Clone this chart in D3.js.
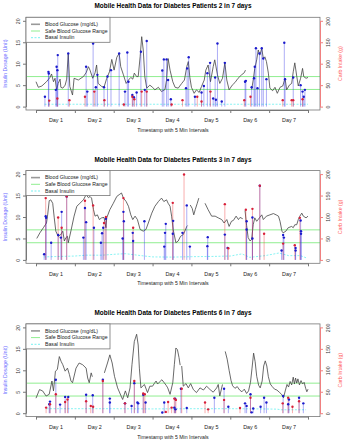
<!DOCTYPE html>
<html>
<head>
<meta charset="utf-8">
<script src="https://cdn.jsdelivr.net/npm/d3@7"></script>
<style>
  body { margin: 0; background: #fff; }
  svg { font-family: "Liberation Sans", Arial, sans-serif; }
</style>
</head>
<body>
<div class="vis"></div>
<script>
// ---- data (time in days, glucose/insulin on left scale, carbs in g) ----
const patientIds = [2, 3, 6];
const dayLabels = ["Day 1", "Day 2", "Day 3", "Day 4", "Day 5", "Day 6", "Day 7"];
const dayTicks = [0, 1, 2, 3, 4, 5, 6, 7];
const insulinTicks = [0, 5, 10, 15, 20];
const carbTicks = [0, 50, 100, 150, 200];
const safeRange = [4, 7];
const legendLabels = ["Blood Glucose (mg/dL)", "Safe Blood Glucose Range", "Basal Insulin"];

const glucose2 = [[0,5.8],[0.06,4.5],[0.15,4.8],[0.27,5.8],[0.36,6.8],[0.40,7.6],[0.45,5.8],[0.49,6.6],[0.53,3.9],[0.57,5.4],[0.62,6.4],[0.64,4.5],[0.69,4.3],[0.75,5.0],[0.79,6.4],[0.83,12.4],[0.87,4.7],[0.94,2.7],[0.98,6.6],[1.09,6.2],[1.22,7.0],[1.29,7.9],[1.35,9.3],[1.39,8.5],[1.46,6.6],[1.52,7.9],[1.56,9.7],[1.60,5.4],[1.69,4.7],[1.75,4.5],[1.82,6.6],[1.89,8.1],[1.95,11.0],[2.01,8.5],[2.08,11.5],[2.14,12.4],[2.18,9.3],[2.25,7.4],[2.32,5.4],[2.38,6.2],[2.44,6.8],[2.49,6.4],[2.53,7.8],[2.59,7.0],[2.63,7.0],[2.68,11.6],[2.72,16.3],[2.76,13.2],[2.80,7.0],[2.85,4.3],[2.93,5.0],[3.0,4.5],[3.06,3.9],[3.15,4.5],[3.23,3.5],[3.32,4.0],[3.36,6.2],[3.40,11.2],[3.45,8.5],[3.52,5.8],[3.58,4.5],[3.66,4.3],[3.75,5.4],[3.82,6.2],[3.88,9.3],[3.92,10.5],[3.96,6.8],[4.0,4.5],[4.07,3.1],[4.13,3.9],[4.20,3.3],[4.26,4.7],[4.33,6.2],[4.37,8.5],[4.43,9.7],[4.49,5.8],[4.56,9.3],[4.60,10.9],[4.67,7.4],[4.73,5.4],[4.80,6.6],[4.86,10.2],[4.91,6.2],[4.97,3.9],[5.05,5.0],[5.12,5.6],[5.20,6.6],[5.29,7.4],[5.36,7.9],[5.39,8.5],[5.47,null],[5.55,4.0],[5.59,6.2],[5.63,8.9],[5.68,10.9],[5.72,13.2],[5.76,12.0],[5.81,13.6],[5.85,11.2],[5.89,11.6],[5.93,10.5],[5.98,7.8],[6.02,4.3],[6.09,3.7],[6.15,4.5],[6.21,3.1],[6.28,4.5],[6.35,4.8],[6.41,6.6],[6.45,3.9],[6.52,5.0],[6.58,5.4],[6.62,8.1],[6.66,10.2],[6.71,7.1],[6.75,4.8],[6.81,6.6],[6.86,8.9],[6.89,7.0],[6.95,6.6],[7.0,6.8]];
const insulin2 = [[0.23,2.3],[0.32,8.1],[0.33,7.7],[0.51,3.9],[0.53,9.3],[0.55,8.5],[0.56,12.0],[0.83,12.4],[1.29,9.3],[1.32,3.5],[1.47,14.7],[1.54,4.5],[1.58,7.4],[1.75,4.5],[1.84,7.0],[1.93,8.5],[2.14,12.4],[2.29,3.5],[2.35,12.6],[2.38,5.8],[2.48,2.7],[2.52,2.2],[2.59,3.3],[2.70,12.8],[2.80,3.9],[2.85,15.3],[3.25,8.4],[3.29,11.0],[3.36,11.0],[3.40,6.2],[3.47,1.7],[3.86,4.3],[3.89,8.9],[3.93,11.5],[4.09,2.3],[4.26,3.3],[4.32,4.8],[4.41,7.8],[4.48,10.2],[4.56,1.9],[4.61,6.8],[4.63,1.6],[4.67,14.7],[4.78,1.2],[4.86,10.2],[5.38,5.8],[5.40,6.0],[5.55,4.5],[5.61,6.6],[5.63,9.3],[5.66,13.6],[5.70,4.3],[5.75,12.4],[5.81,13.6],[5.85,11.2],[5.93,6.4],[6.39,14.9],[6.41,6.4],[6.62,6.8],[6.81,5.0],[6.86,3.5],[6.89,2.3],[6.92,3.9]];
const carbs2 = [[0.34,14],[0.55,19],[0.86,15],[1.26,23],[1.50,35],[1.76,15],[2.26,5],[2.48,23],[2.53,17],[2.72,35],[2.85,35],[3.49,5],[3.77,15],[4.15,23],[4.26,12],[4.49,35],[5.36,15],[5.52,23],[6.35,15],[6.58,15],[6.62,15],[6.86,17]];
const basal2 = [[0.22,0.55],[7.0,0.55]];

const glucose3 = [[0.02,5.0],[0.10,6.3],[0.19,7.5],[0.27,8.6],[0.30,10.5],[0.34,13.8],[0.38,14.0],[0.43,13.2],[0.47,9.8],[0.51,6.7],[0.57,5.5],[0.63,5.8],[0.69,6.7],[0.73,4.4],[0.77,5.2],[0.81,5.5],[0.83,4.0],[0.90,6.8],[0.98,10.2],[1.05,12.5],[1.13,13.2],[1.22,14.0],[1.29,15.2],[1.35,14.5],[1.39,14.8],[1.43,14.4],[1.48,11.7],[1.52,10.2],[1.58,10.5],[1.63,9.4],[1.69,9.8],[1.75,9.9],[1.80,7.5],[1.82,9.8],[1.90,11.7],[1.99,13.2],[2.08,14.8],[2.14,15.2],[2.20,15.6],[2.25,14.4],[2.32,13.6],[2.38,12.5],[2.44,10.5],[2.49,9.4],[2.55,10.2],[2.61,9.4],[2.68,7.1],[2.76,6.7],[2.83,7.1],[2.89,8.6],[2.98,10.9],[3.06,12.5],[3.15,13.6],[3.23,14.4],[3.29,13.6],[3.36,14.0],[3.40,13.2],[3.45,12.5],[3.49,10.2],[3.53,7.1],[3.60,4.0],[3.66,4.4],[3.72,5.5],[3.79,5.9],[3.83,6.7],[3.88,7.8],[3.90,8.0],[3.93,null],[3.97,12.8],[4.02,12.0],[4.06,10.5],[4.10,11.8],[4.15,13.2],[4.19,14.4],[4.27,null],[4.35,13.2],[4.43,11.7],[4.52,10.2],[4.61,10.2],[4.69,9.8],[4.78,9.4],[4.84,8.6],[4.91,9.4],[4.97,7.8],[5.03,9.0],[5.08,9.2],[5.15,10.2],[5.21,9.4],[5.25,9.9],[5.32,9.6],[5.35,null],[5.38,11.5],[5.42,8.0],[5.46,5.2],[5.51,4.4],[5.55,4.8],[5.59,8.2],[5.63,9.8],[5.68,9.0],[5.75,9.8],[5.81,10.5],[5.85,9.4],[5.93,10.2],[6.02,10.5],[6.11,10.8],[6.18,10.5],[6.24,10.2],[6.28,9.0],[6.33,6.7],[6.36,6.3],[6.43,6.7],[6.49,7.5],[6.58,7.8],[6.62,7.5],[6.66,8.2],[6.71,8.2],[6.75,9.4],[6.79,10.2],[6.84,10.9],[6.88,10.2],[6.95,9.8],[7.0,10.2]];
const insulin3 = [[0.21,1.3],[0.25,10.2],[0.26,9.8],[0.39,4.0],[0.57,5.8],[0.64,5.2],[0.66,11.2],[0.79,14.8],[1.22,5.2],[1.26,12.1],[1.29,8.8],[1.49,7.5],[1.67,4.0],[1.70,6.2],[1.73,7.5],[1.80,9.6],[2.23,5.0],[2.25,11.2],[2.26,9.0],[2.49,6.3],[2.50,4.4],[2.79,9.0],[3.30,3.1],[3.32,6.3],[3.34,8.4],[3.52,6.1],[3.53,9.1],[3.77,6.3],[3.88,12.7],[3.96,3.1],[4.41,3.2],[4.42,5.3],[4.86,5.9],[4.93,2.8],[5.42,9.0],[5.42,7.1],[5.57,9.9],[5.57,5.0],[5.76,17.3],[6.32,2.2],[6.36,5.8],[6.38,5.2],[6.68,2.8],[6.68,2.2],[6.81,9.2],[6.82,6.7],[6.82,6.1]];
const carbs3 = [[0.25,144],[0.57,99],[0.66,75],[0.79,148],[1.26,138],[1.47,127],[1.75,86],[1.80,100],[2.25,144],[2.50,75],[3.52,133],[3.81,199],[4.86,130],[4.95,27],[5.40,117],[5.57,119],[5.76,173],[5.87,61],[6.36,38],[6.66,34],[6.79,98]];
const basal3 = [[0.2,0.7],[0.6,0.8],[1.0,0.9],[1.3,1.1],[1.7,1.1],[2.0,1.3],[2.3,1.45],[2.7,1.0],[3.0,0.7],[3.5,0.65],[4.0,0.75],[4.5,0.8],[5.0,0.9],[5.3,1.4],[5.5,0.6],[5.9,1.0],[6.25,1.6],[6.5,1.0],[6.8,1.0],[6.95,0.5]];

const glucose6 = [[0,3.5],[0.09,5.5],[0.17,5.2],[0.26,4.0],[0.34,4.4],[0.41,7.5],[0.45,5.2],[0.50,9.8],[0.55,10.2],[0.60,13.2],[0.65,12.0],[0.69,11.3],[0.75,9.8],[0.81,10.5],[0.86,9.0],[0.90,7.5],[0.94,7.1],[1.03,10.5],[1.11,11.7],[1.20,11.3],[1.29,10.5],[1.33,8.2],[1.37,7.1],[1.42,9.4],[1.45,8.5],[1.6,null],[1.76,9.4],[1.84,11.7],[1.90,13.6],[1.96,11.7],[2.02,8.6],[2.10,5.9],[2.19,4.0],[2.23,3.2],[2.30,5.2],[2.36,3.6],[2.42,5.9],[2.47,11.3],[2.53,16.7],[2.59,18.4],[2.63,15.9],[2.66,10.5],[2.70,5.9],[2.79,6.7],[2.87,4.8],[2.93,6.3],[3.00,6.3],[3.05,7.0],[3.09,7.5],[3.13,6.8],[3.17,7.2],[3.24,7.8],[3.30,7.1],[3.35,6.5],[3.39,5.9],[3.45,4.4],[3.52,7.1],[3.56,11.3],[3.60,15.2],[3.64,14.8],[3.68,13.0],[3.71,11.2],[3.73,null],[3.75,11.0],[3.79,6.3],[3.86,6.9],[3.92,5.9],[3.98,6.9],[4.05,5.5],[4.13,4.8],[4.22,5.9],[4.31,5.4],[4.39,6.3],[4.48,5.5],[4.56,4.9],[4.65,5.9],[4.69,6.7],[4.73,4.0],[4.80,6.7],[4.84,null],[4.87,14.4],[4.92,12.6],[4.97,10.0],[5.02,7.6],[5.06,6.4],[5.12,5.8],[5.18,6.2],[5.24,5.4],[5.30,5.0],[5.36,5.6],[5.42,4.6],[5.47,5.2],[5.52,7.2],[5.56,10.5],[5.60,14.0],[5.64,12.0],[5.68,8.6],[5.73,6.5],[5.77,5.9],[5.82,7.5],[5.86,11.0],[5.90,12.2],[5.94,11.0],[5.98,8.5],[6.03,6.8],[6.08,6.2],[6.14,5.6],[6.20,5.4],[6.26,4.9],[6.32,4.4],[6.37,3.6],[6.42,5.4],[6.46,6.7],[6.50,6.1],[6.54,7.4],[6.58,6.6],[6.62,8.4],[6.65,6.8],[6.68,8.2],[6.71,7.0],[6.74,8.0],[6.78,6.6],[6.82,7.6],[6.86,6.8],[6.90,7.2],[6.94,5.8],[6.97,5.0],[7.0,5.6]];
const insulin6 = [[0.34,2.1],[0.36,2.7],[0.51,7.8],[0.62,2.0],[0.75,3.8],[0.83,3.8],[1.29,4.3],[1.46,4.2],[1.72,7.8],[1.90,3.4],[1.90,2.5],[2.29,2.3],[2.46,1.7],[2.53,7.0],[2.61,2.5],[2.63,2.3],[2.76,4.3],[2.82,2.5],[3.25,0.15],[3.30,2.5],[3.56,1.3],[3.58,3.4],[3.59,0.9],[3.73,5.7],[3.88,1.2],[4.59,3.6],[4.84,5.7],[4.95,1.5],[5.38,2.3],[5.42,1.7],[5.52,4.4],[5.55,0.2],[5.59,1.1],[5.78,1.5],[5.87,3.6],[5.93,2.5],[6.36,4.0],[6.49,2.1],[6.51,3.2],[6.77,3.6],[6.88,2.3]];
const carbs6 = [[0.26,13],[0.36,21],[0.51,44],[0.75,26],[0.81,32],[1.29,28],[1.41,17],[1.47,15],[1.72,75],[2.29,23],[2.53,75],[2.76,46],[2.80,44],[3.34,3],[3.40,26],[3.49,13],[3.56,34],[3.60,31],[3.75,57],[4.35,25],[4.43,9],[4.84,31],[5.25,12],[5.52,36],[6.35,23],[6.49,36],[6.60,15],[6.77,28]];
const basal6 = [[0.27,1.05],[2.0,1.05],[3.0,1.0],[4.0,1.05],[5.0,1.05],[5.8,1.0],[6.2,0.95],[6.3,0.8],[6.95,0.8]];

const panels = [
  { id: patientIds[0], glucose: glucose2, insulin: insulin2, carbs: carbs2, basal: basal2 },
  { id: patientIds[1], glucose: glucose3, insulin: insulin3, carbs: carbs3, basal: basal3 },
  { id: patientIds[2], glucose: glucose6, insulin: insulin6, carbs: carbs6, basal: basal6 }
];

// ---- layout ----
const W = 345, H = 446;
const panelStep = 153.3;
const box = { left: 26, right: 320, top: 17.3, bottom: 110 };

const svg = d3.select(".vis").append("svg")
  .attr("width", W).attr("height", H);

const x = d3.scaleLinear().domain([0, 7]).range([36, 308]);

panels.forEach((p, i) => {
  const g = svg.append("g").attr("transform", "translate(0," + (i * panelStep) + ")");

  const y = d3.scaleLinear().domain([0, 20]).range([106.6, 20.8]);
  const yCarb = d3.scaleLinear().domain([0, 200]).range([106.6, 20.8]);

  // title
  g.append("text")
    .attr("x", 173).attr("y", 8.3)
    .attr("text-anchor", "middle")
    .attr("font-weight", "bold")
    .attr("font-size", 6.4)
    .text("Mobile Health Data for Diabetes Patients " + p.id + " in 7 days");

  // safe range lines
  g.selectAll(".safe").data(safeRange).enter().append("line")
    .attr("x1", box.left).attr("x2", box.right)
    .attr("y1", d => y(d)).attr("y2", d => y(d))
    .attr("stroke", "#90ee90").attr("stroke-width", 1);

  // basal insulin
  g.append("path").datum(p.basal)
    .attr("fill", "none").attr("stroke", "#55eeee")
    .attr("stroke-width", 0.7).attr("stroke-dasharray", "2,1.5")
    .attr("d", d3.line().x(d => x(d[0])).y(d => y(d[1])));

  // glucose line
  g.append("path").datum(p.glucose)
    .attr("fill", "none").attr("stroke", "#444")
    .attr("stroke-width", 0.8)
    .attr("d", d3.line().defined(d => d[1] !== null).x(d => x(d[0])).y(d => y(d[1])));

  // insulin stems + dots
  g.selectAll(".ins").data(p.insulin).enter().append("line")
    .attr("x1", d => x(d[0])).attr("x2", d => x(d[0]))
    .attr("y1", y(0)).attr("y2", d => y(d[1]))
    .attr("stroke", "rgba(40,40,230,0.38)").attr("stroke-width", 1);
  // carb stems
  g.selectAll(".carb").data(p.carbs).enter().append("line")
    .attr("x1", d => x(d[0])).attr("x2", d => x(d[0]))
    .attr("y1", yCarb(0)).attr("y2", d => yCarb(d[1]))
    .attr("stroke", "rgba(240,40,40,0.38)").attr("stroke-width", 1);
  g.selectAll(".insdot").data(p.insulin).enter().append("circle")
    .attr("cx", d => x(d[0])).attr("cy", d => y(d[1])).attr("r", 1.2)
    .attr("fill", "#1a1acc");
  g.selectAll(".carbdot").data(p.carbs).enter().append("circle")
    .attr("cx", d => x(d[0])).attr("cy", d => yCarb(d[1])).attr("r", 1.2)
    .attr("fill", "#d8203a");

  // frame
  g.append("rect")
    .attr("x", box.left).attr("y", box.top)
    .attr("width", box.right - box.left).attr("height", box.bottom - box.top)
    .attr("fill", "none").attr("stroke", "#777").attr("stroke-width", 0.8);

  // left axis
  const ax = g.append("g").attr("transform", "translate(" + box.left + ",0)")
    .call(d3.axisLeft(y).tickValues(insulinTicks).tickSize(3).tickSizeOuter(0));
  ax.select(".domain").attr("stroke", "#777");
  ax.selectAll(".tick line").attr("stroke", "#777");
  ax.selectAll("text")
    .attr("transform", "rotate(-90)")
    .attr("x", 0).attr("y", -6).attr("dy", 0)
    .attr("text-anchor", "middle")
    .attr("font-size", 5.2).attr("fill", "#333");

  // right axis
  const ar = g.append("g").attr("transform", "translate(" + box.right + ",0)")
    .call(d3.axisRight(yCarb).tickValues(carbTicks).tickSize(3).tickSizeOuter(0));
  ar.select(".domain").attr("stroke", "#f08080");
  ar.selectAll(".tick line").attr("stroke", "#f08080");
  ar.selectAll("text")
    .attr("transform", "rotate(-90)")
    .attr("x", 0).attr("y", 10.3).attr("dy", 0)
    .attr("text-anchor", "middle")
    .attr("font-size", 5.2).attr("fill", "#333");

  // bottom axis: ticks at day boundaries, labels at middle of each day
  const ab = g.append("g").attr("transform", "translate(0," + box.bottom + ")")
    .call(d3.axisBottom(x).tickValues(dayTicks).tickSize(3).tickSizeOuter(0).tickFormat(""));
  ab.select(".domain").attr("stroke", "#777");
  ab.selectAll(".tick line").attr("stroke", "#777");
  const al = g.append("g").attr("transform", "translate(0," + box.bottom + ")")
    .call(d3.axisBottom(x).tickValues(d3.range(7).map(k => k + 0.5)).tickSize(0)
      .tickFormat((d, k) => dayLabels[k]));
  al.select(".domain").remove();
  al.selectAll("text").attr("y", 12.3).attr("dy", 0).attr("font-size", 5.4).attr("fill", "#222");

  // axis titles
  g.append("text")
    .attr("x", 173).attr("y", 132.2)
    .attr("text-anchor", "middle").attr("font-size", 5.2).attr("fill", "#222")
    .text("Timestamp with 5 Min Intervals");
  g.append("text")
    .attr("transform", "translate(7.4," + ((box.top + box.bottom) / 2) + ") rotate(-90)")
    .attr("text-anchor", "middle").attr("font-size", 5.2).attr("fill", "#6a6aff")
    .text("Insulin Dosage (Unit)");
  g.append("text")
    .attr("transform", "translate(341.8," + ((box.top + box.bottom) / 2) + ") rotate(-90)")
    .attr("text-anchor", "middle").attr("font-size", 5.2).attr("fill", "#ff6060")
    .text("Carb Intake (g)");

  // legend
  const lg = g.append("g").attr("transform", "translate(" + box.left + "," + box.top + ")");
  lg.append("rect").attr("width", 84).attr("height", 25)
    .attr("fill", "#fff").attr("stroke", "#777").attr("stroke-width", 0.8);
  const legendStyles = [
    { stroke: "#999", width: 1.6, dash: null },
    { stroke: "#90ee90", width: 1, dash: null },
    { stroke: "#55eeee", width: 0.8, dash: "2,1.5" }
  ];
  legendLabels.forEach((lab, k) => {
    const yy = 7 + k * 6.7;
    lg.append("line").attr("x1", 5).attr("x2", 14).attr("y1", yy).attr("y2", yy)
      .attr("stroke", legendStyles[k].stroke).attr("stroke-width", legendStyles[k].width)
      .attr("stroke-dasharray", legendStyles[k].dash);
    lg.append("text").attr("x", 19).attr("y", yy + 1.8)
      .attr("font-size", 5.2).attr("fill", "#222").text(lab);
  });
});
</script>
</body>
</html>
